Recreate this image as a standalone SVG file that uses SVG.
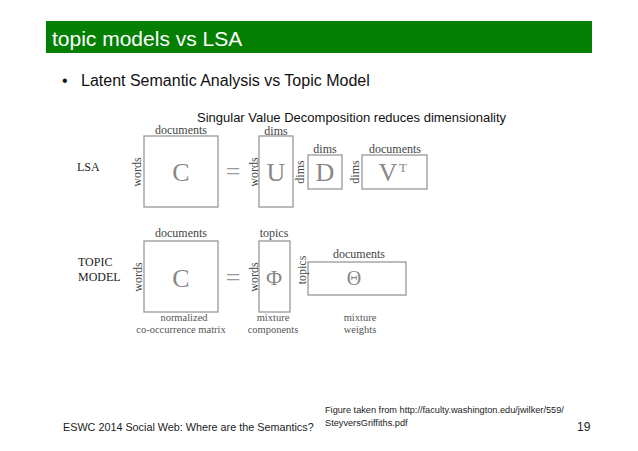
<svg xmlns="http://www.w3.org/2000/svg" width="638" height="451" viewBox="0 0 638 451">
<style>
.sans{font-family:"Liberation Sans",Arial,sans-serif}
.lbl{font-family:"Liberation Serif","Times New Roman",serif;font-size:12px;fill:#444;text-anchor:middle}
.cap{font-family:"Liberation Serif","Times New Roman",serif;font-size:10.5px;fill:#555;text-anchor:middle}
.big{font-family:"Liberation Serif","Times New Roman",serif;font-size:26px;fill:#888;text-anchor:middle}
.row{font-family:"Liberation Serif","Times New Roman",serif;font-size:12px;fill:#222}
.box{fill:#fff;stroke:#999;stroke-width:1.3}
</style>
<rect width="638" height="451" fill="#fff"/>
<g id="title">
<rect x="46" y="21" width="546" height="32" fill="#037f03"/>
<text class="sans" x="52" y="46" font-size="21" fill="#fff">topic models vs LSA</text>
</g>
<g id="bullet">
<text class="sans" x="62" y="86" font-size="16" fill="#111">•</text>
<text class="sans" x="81" y="86" font-size="16" fill="#111">Latent Semantic Analysis vs Topic Model</text>
</g>
<text class="sans" x="197" y="122" font-size="13" fill="#111">Singular Value Decomposition reduces dimensionality</text>

<g id="lsa">
<text class="row" x="77" y="171">LSA</text>
<g id="lsa-C">
<rect class="box" x="144" y="136" width="74" height="71"/>
<text class="lbl" x="181" y="134">documents</text>
<text class="lbl" transform="translate(141,172) rotate(-90)">words</text>
<text class="big" x="181" y="181">C</text>
</g>
<text class="big" x="233" y="180" style="fill:#999">=</text>
<g id="lsa-U">
<rect class="box" x="259" y="136" width="34" height="71"/>
<text class="lbl" x="276" y="134.5">dims</text>
<text class="lbl" transform="translate(258,172) rotate(-90)">words</text>
<text class="big" x="276" y="181">U</text>
</g>
<g id="lsa-D">
<rect class="box" x="308" y="155" width="34" height="34"/>
<text class="lbl" x="325" y="153">dims</text>
<text class="lbl" transform="translate(304,172) rotate(-90)">dims</text>
<text class="big" x="325" y="181">D</text>
</g>
<g id="lsa-VT">
<rect class="box" x="362" y="155" width="65" height="34"/>
<text class="lbl" x="395" y="153">documents</text>
<text class="lbl" transform="translate(359,172) rotate(-90)">dims</text>
<text class="big" x="388" y="181">V</text>
<text class="big" x="403" y="172" style="font-size:13px">T</text>
</g>
</g>

<g id="topic">
<text class="row" x="78" y="266">TOPIC</text>
<text class="row" x="78" y="281">MODEL</text>
<g id="topic-C">
<rect class="box" x="144" y="241" width="74" height="71"/>
<text class="lbl" x="181" y="237">documents</text>
<text class="lbl" transform="translate(142,277) rotate(-90)">words</text>
<text class="big" x="181" y="287">C</text>
<text class="cap" x="184" y="321">normalized</text>
<text class="cap" x="181" y="333">co-occurrence matrix</text>
</g>
<text class="big" x="233" y="286" style="fill:#999">=</text>
<g id="topic-Phi">
<rect class="box" x="259" y="241" width="31" height="71"/>
<text class="lbl" x="274" y="237">topics</text>
<text class="lbl" transform="translate(258,277) rotate(-90)">words</text>
<text class="big" x="274" y="285" style="font-size:22px">Φ</text>
<text class="cap" x="273" y="321">mixture</text>
<text class="cap" x="273" y="333">components</text>
</g>
<g id="topic-Theta">
<rect class="box" x="308" y="262" width="98" height="33"/>
<text class="lbl" x="359" y="258">documents</text>
<text class="lbl" transform="translate(306,270) rotate(-90)">topics</text>
<text class="big" x="354" y="285" style="font-size:20px">Θ</text>
<text class="cap" x="360" y="321">mixture</text>
<text class="cap" x="360" y="333">weights</text>
</g>
</g>

<g id="footer">
<text class="sans" x="63" y="431" font-size="10.8" fill="#222">ESWC 2014 Social Web: Where are the Semantics?</text>
<text class="sans" x="325" y="413" font-size="9.2" fill="#222">Figure taken from http://faculty.washington.edu/jwilker/559/</text>
<text class="sans" x="325" y="426" font-size="9.2" fill="#222">SteyversGriffiths.pdf</text>
<text class="sans" x="577" y="431" font-size="12" fill="#222">19</text>
</g>
</svg>
